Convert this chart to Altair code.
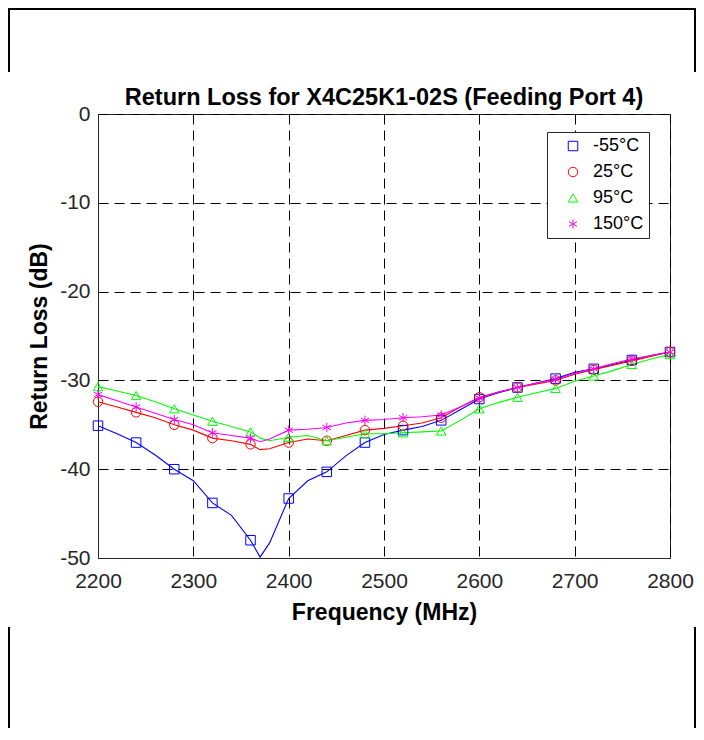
import altair as alt
import pandas as pd

title_text = "Return Loss for X4C25K1-02S (Feeding Port 4)"
series_names = ["-55°C", "25°C", "95°C", "150°C"]
series_colors = ["#0000ff", "#ff0000", "#00ff00", "#ff00ff"]
asterisk = "M0,-1L0,1M-0.87,-0.5L0.87,0.5M-0.87,0.5L0.87,-0.5"
series_shapes = ["square", "circle", "triangle-up", asterisk]

freq = [2200, 2220, 2240, 2260, 2280, 2300, 2320, 2340, 2360, 2370, 2380,
        2400, 2420, 2440, 2460, 2480, 2500, 2520, 2540, 2560, 2580, 2600,
        2620, 2640, 2660, 2680, 2700, 2720, 2740, 2760, 2780, 2800]

rl_m55 = [-35.1, -36.0, -37.0, -38.4, -40.0, -41.3, -43.8, -45.2, -48.0, -49.9, -48.3,
          -43.3, -41.3, -40.3, -38.5, -37.0, -36.1, -35.6, -35.2, -34.5, -33.3, -32.1,
          -31.4, -30.8, -30.3, -29.8, -29.1, -28.7, -28.2, -27.7, -27.2, -26.8]
rl_25 = [-32.4, -33.0, -33.6, -34.2, -35.0, -35.6, -36.5, -36.8, -37.2, -37.8, -37.7,
         -37.0, -36.6, -36.8, -36.2, -35.6, -35.4, -35.1, -34.8, -34.2, -33.0, -31.9,
         -31.3, -30.8, -30.4, -30.0, -29.3, -28.8, -28.3, -27.8, -27.3, -26.8]
rl_95 = [-30.7, -31.2, -31.7, -32.4, -33.2, -33.9, -34.6, -35.2, -35.8, -36.5, -36.8,
         -36.4, -36.2, -36.8, -36.4, -36.0, -36.0, -35.9, -35.8, -35.7, -34.5, -33.2,
         -32.5, -31.9, -31.4, -30.9, -30.1, -29.5, -28.9, -28.2, -27.6, -27.1]
rl_150 = [-31.6, -32.3, -33.0, -33.7, -34.4, -35.0, -35.9, -36.2, -36.5, -36.9, -36.6,
          -35.6, -35.5, -35.3, -34.8, -34.5, -34.4, -34.2, -34.1, -33.9, -33.0, -32.0,
          -31.3, -30.8, -30.3, -29.9, -29.2, -28.7, -28.1, -27.6, -27.2, -26.8]

marker_freq = [2200, 2240, 2280, 2320, 2360, 2400, 2440, 2480, 2520, 2560,
               2600, 2640, 2680, 2720, 2760, 2800]

x_ticks = [2200, 2300, 2400, 2500, 2600, 2700, 2800]
y_ticks = [-50, -40, -30, -20, -10, 0]

rows = []
for name, vals in zip(series_names, [rl_m55, rl_25, rl_95, rl_150]):
    for f, v in zip(freq, vals):
        rows.append({"freq": f, "rl": v, "series": name, "curve": name})
df = pd.DataFrame(rows)
df_m = df[df["freq"].isin(marker_freq)]

FONT = "Liberation Sans"
W, H = 572, 444

x_enc = alt.X("freq:Q", scale=alt.Scale(domain=[2200, 2800], nice=False),
              axis=alt.Axis(values=x_ticks, title="Frequency (MHz)",
                            labelExpr="'' + datum.value", labelPadding=12,
                            labelFlush=False, titlePadding=10))
y_enc = alt.Y("rl:Q", scale=alt.Scale(domain=[-50, 0], nice=False),
              axis=alt.Axis(values=y_ticks, title="Return Loss (dB)",
                            labelExpr="'' + datum.value", labelPadding=8,
                            labelFlush=False, titlePadding=8))

# line layer: stroke scale built from the data (not an explicit domain) so its
# disabled legend is not merged with the marker legend
lines = alt.Chart(df).mark_line(strokeWidth=1.1).encode(
    x=x_enc, y=y_enc,
    stroke=alt.Stroke("curve:N", sort=series_names,
                      scale=alt.Scale(range=series_colors), legend=None),
    detail="curve:N",
)

legend_cfg = dict(title=None, orient="none", legendX=449, legendY=18,
                  padding=5, rowPadding=8, symbolOffset=12,
                  labelOffset=11, labelFontSize=18, labelFont=FONT,
                  labelColor="#000000",
                  strokeColor="#262626", fillColor="#ffffff",
                  symbolSize=90, symbolStrokeWidth=1)

points = alt.Chart(df_m).mark_point(filled=False, size=90, strokeWidth=1, opacity=1).encode(
    x=alt.X("freq:Q"), y=alt.Y("rl:Q"),
    color=alt.Color("series:N", scale=alt.Scale(domain=series_names, range=series_colors),
                    legend=alt.Legend(**legend_cfg)),
    shape=alt.Shape("series:N", scale=alt.Scale(domain=series_names, range=series_shapes),
                    legend=alt.Legend(**legend_cfg)),
)

title_mark = alt.Chart(pd.DataFrame({"k": [0]})).mark_text(
    font=FONT, fontSize=23.5, fontWeight="bold", color="#000000",
    align="center", baseline="alphabetic",
).encode(x=alt.value(W / 2), y=alt.value(-9), text=alt.value(title_text))

def vline(x, y1, y2):
    return alt.Chart(pd.DataFrame({"k": [0]})).mark_rule(color="#000000", strokeWidth=2).encode(
        x=alt.value(x), y=alt.value(y1), y2=alt.value(y2))

def hline(x1, x2, y):
    return alt.Chart(pd.DataFrame({"k": [0]})).mark_rule(color="#000000", strokeWidth=2).encode(
        x=alt.value(x1), x2=alt.value(x2), y=alt.value(y))

frame = [
    hline(-90, 598, -105),
    vline(-89, -106, -42),
    vline(597, -106, -42),
    vline(-89, 513, 614),
    vline(597, 513, 614),
]

chart = alt.layer(lines, points, title_mark, *frame).properties(
    width=W, height=H,
    autosize=alt.AutoSizeParams(type="none"),
    padding={"left": 90, "top": 106, "right": 26, "bottom": 170},
).configure_view(
    stroke="#262626", strokeWidth=1
).configure_axis(
    grid=True, gridColor="#000000", gridDash=[10, 6], gridWidth=1, gridOpacity=1,
    domainColor="#262626", domainWidth=1, ticks=False,
    labelFont=FONT, labelFontSize=21, labelColor="#262626",
    titleFont=FONT, titleFontSize=23, titleFontWeight="bold", titleColor="#000000",
)

chart.save("out.html", embed_options={"renderer": "svg", "actions": False})
